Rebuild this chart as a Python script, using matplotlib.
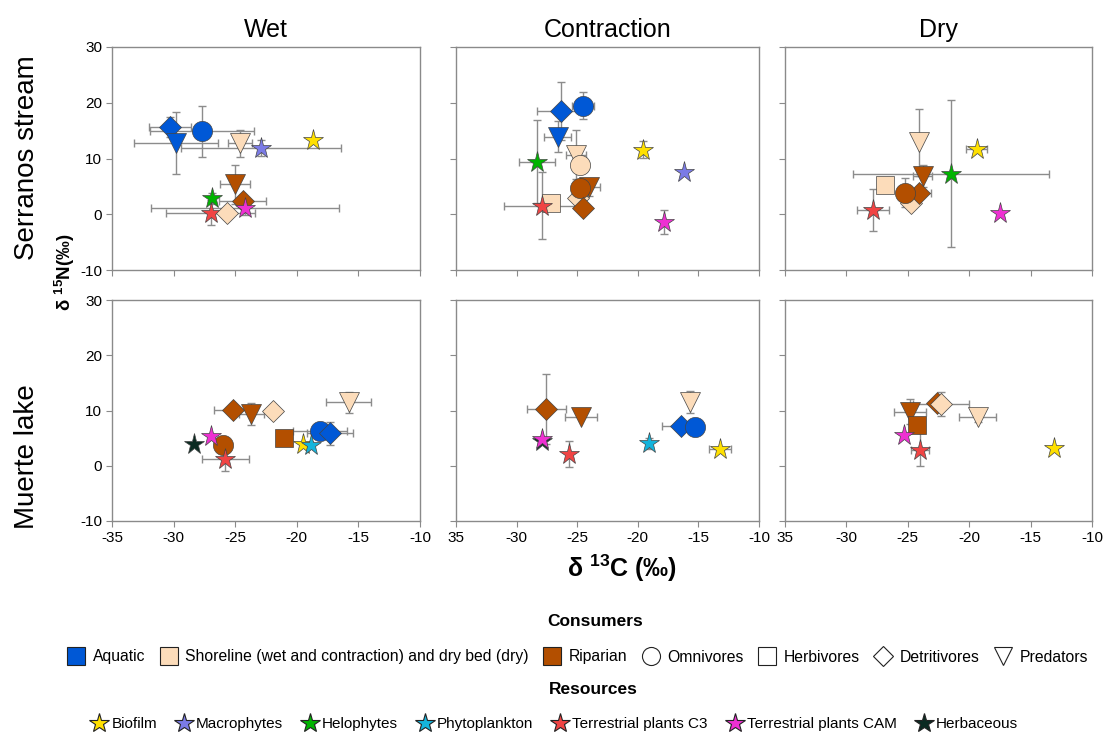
import matplotlib
matplotlib.use("Agg")
import matplotlib.pyplot as plt
from matplotlib.lines import Line2D

plt.rcParams['font.family'] = ['Liberation Sans', 'DejaVu Sans']
plt.rcParams['axes.unicode_minus'] = False
plt.rcParams['mathtext.fontset'] = 'custom'
plt.rcParams['mathtext.rm'] = 'Liberation Sans'
plt.rcParams['mathtext.bf'] = 'Liberation Sans:bold'

# --- data ---
seasons = ["Wet", "Contraction", "Dry"]
sites = ["Serranos stream", "Muerte lake"]
x_ticks = [-35, -30, -25, -20, -15, -10]
y_ticks = [-10, 0, 10, 20, 30]
x_labels_left = ["-35", "-30", "-25", "-20", "-15", "-10"]
x_labels_other = ["35", "-30", "-25", "-20", "-15", "-10"]
y_labels = ["-10", "0", "10", "20", "30"]

# Serranos stream, wet
ws_kind = ["Aquatic Detritivores", "Aquatic Predators", "Aquatic Omnivores", "Shoreline Predators",
           "Macrophytes", "Biofilm", "Riparian Predators", "Riparian Detritivores", "Helophytes",
           "Terrestrial plants C3", "Shoreline Detritivores", "Terrestrial plants CAM"]
ws_x = [-30.3, -29.8, -27.7, -24.6, -22.9, -18.7, -25.0, -24.4, -26.9, -27.0, -25.7, -24.2]
ws_y = [15.6, 12.8, 14.9, 12.7, 11.9, 13.4, 5.4, 2.3, 2.9, 0.3, 0.3, 1.1]
ws_xerr = [1.7, 3.4, 4.2, 1.0, 6.5, 0, 1.2, 1.9, 0, 3.6, 0, 7.6]
ws_yerr = [1.8, 5.6, 4.6, 2.5, 1.5, 0, 3.5, 0, 1.0, 2.2, 0, 1.2]

# Serranos stream, contraction
cs_kind = ["Aquatic Detritivores", "Aquatic Omnivores", "Aquatic Predators", "Helophytes",
           "Shoreline Herbivores", "Terrestrial plants C3", "Shoreline Predators", "Shoreline Omnivores",
           "Shoreline Detritivores", "Riparian Predators", "Riparian Omnivores", "Riparian Detritivores",
           "Biofilm", "Macrophytes", "Terrestrial plants CAM"]
cs_x = [-26.3, -24.55, -26.6, -28.3, -27.2, -27.9, -25.1, -24.8, -24.9, -24.0, -24.8, -24.5, -19.6, -16.2, -17.8]
cs_y = [18.5, 19.5, 13.9, 9.45, 2.1, 1.5, 10.7, 8.9, 3.0, 4.8, 4.7, 1.05, 11.6, 7.5, -1.4]
cs_xerr = [2.0, 0.9, 1.1, 1.5, 0, 3.1, 0.8, 0, 0, 0.9, 0, 0, 0, 0, 0]
cs_yerr = [5.2, 2.4, 2.8, 7.5, 0, 6.0, 4.4, 0, 0, 1.6, 0, 0, 1.5, 0, 2.1]

# Serranos stream, dry
ds_kind = ["Shoreline Predators", "Biofilm", "Helophytes", "Shoreline Herbivores", "Shoreline Detritivores",
           "Riparian Detritivores", "Riparian Omnivores", "Riparian Predators", "Terrestrial plants C3",
           "Terrestrial plants CAM"]
ds_x = [-24.1, -19.4, -21.5, -26.85, -24.7, -24.1, -25.2, -23.8, -27.8, -17.5]
ds_y = [12.9, 11.7, 7.3, 5.3, 2.0, 3.9, 3.9, 6.85, 0.8, 0.2]
ds_xerr = [0, 0.85, 8.0, 0, 0, 1.0, 0, 0.8, 1.3, 0]
ds_yerr = [6.0, 0, 13.2, 0, 0, 0, 2.6, 2.0, 3.8, 0]

# Muerte lake, wet
wm_kind = ["Riparian Detritivores", "Riparian Predators", "Shoreline Detritivores", "Shoreline Predators",
           "Riparian Herbivores", "Aquatic Omnivores", "Aquatic Detritivores", "Biofilm", "Phytoplankton",
           "Herbaceous", "Riparian Omnivores", "Terrestrial plants CAM", "Terrestrial plants C3"]
wm_x = [-25.2, -23.7, -21.9, -15.8, -21.0, -18.1, -17.3, -19.5, -18.85, -28.35, -26.0, -27.0, -25.8]
wm_y = [10.05, 9.3, 9.9, 11.45, 5.1, 6.3, 5.9, 4.0, 3.8, 4.0, 3.8, 5.4, 1.3]
wm_xerr = [1.5, 1.0, 0, 1.8, 0, 2.2, 1.9, 0, 0, 0, 0, 0, 1.9]
wm_yerr = [0, 2.0, 0, 1.9, 0, 0, 2.1, 0, 0, 0, 0, 0, 2.3]

# Muerte lake, contraction
cm_kind = ["Riparian Detritivores", "Riparian Predators", "Herbaceous", "Terrestrial plants CAM",
           "Terrestrial plants C3", "Phytoplankton", "Aquatic Detritivores", "Aquatic Omnivores",
           "Shoreline Predators", "Biofilm"]
cm_x = [-27.55, -24.7, -27.9, -27.9, -25.7, -19.1, -16.4, -15.25, -15.7, -13.25]
cm_y = [10.3, 8.8, 4.4, 4.9, 2.15, 4.1, 7.15, 7.1, 11.5, 2.95]
cm_xerr = [1.6, 1.3, 0, 0, 0, 0, 1.6, 0, 0, 0.9]
cm_yerr = [6.3, 0, 0, 0, 2.3, 1.0, 0, 0, 2.0, 0]

# Muerte lake, dry
dm_kind = ["Riparian Predators", "Riparian Detritivores", "Shoreline Detritivores", "Shoreline Predators",
           "Riparian Herbivores", "Terrestrial plants CAM", "Terrestrial plants C3", "Biofilm"]
dm_x = [-24.8, -22.65, -22.3, -19.3, -24.25, -25.3, -24.0, -13.1]
dm_y = [9.8, 11.4, 11.2, 8.9, 7.3, 5.6, 2.9, 3.3]
dm_xerr = [1.3, 0, 2.3, 1.5, 0, 0, 0.7, 0]
dm_yerr = [2.3, 0, 2.2, 1.0, 0, 0, 3.0, 0]

consumer_groups = ["Aquatic", "Shoreline", "Riparian"]
consumer_labels = ["Aquatic", "Shoreline (wet and contraction) and dry bed (dry)", "Riparian"]
feeding_groups = ["Omnivores", "Herbivores", "Detritivores", "Predators"]
resources = ["Biofilm", "Macrophytes", "Helophytes", "Phytoplankton",
             "Terrestrial plants C3", "Terrestrial plants CAM", "Herbaceous"]

# --- styles ---
group_colors = {"Aquatic": "#0058D6", "Shoreline": "#FCDCBA", "Riparian": "#B34F00"}
shape_markers = {"Omnivores": "o", "Herbivores": "s", "Detritivores": "D", "Predators": "v"}
marker_sizes = {"o": 14.5, "s": 12.5, "D": 11, "v": 14.5, "*": 15.5}
resource_colors = {"Biofilm": "#FFE000", "Macrophytes": "#7B7BE6", "Helophytes": "#00B400",
                   "Phytoplankton": "#14B4DC", "Terrestrial plants C3": "#F04444",
                   "Terrestrial plants CAM": "#EE30D2", "Herbaceous": "#0B2B22"}
spine_col = "#8a8a8a"

panels = [
    [(ws_kind, ws_x, ws_y, ws_xerr, ws_yerr), (cs_kind, cs_x, cs_y, cs_xerr, cs_yerr),
     (ds_kind, ds_x, ds_y, ds_xerr, ds_yerr)],
    [(wm_kind, wm_x, wm_y, wm_xerr, wm_yerr), (cm_kind, cm_x, cm_y, cm_xerr, cm_yerr),
     (dm_kind, dm_x, dm_y, dm_xerr, dm_yerr)],
]

W, H = 1107, 734
col_px = [(112, 420), (456, 759), (785, 1092)]
row_px = [(47, 270), (300, 521)]


def draw_point(ax, kind, x, y, xe, ye):
    if kind in resource_colors:
        color, marker = resource_colors[kind], "*"
    else:
        group, shape = kind.split()
        color, marker = group_colors[group], shape_markers[shape]
    if xe or ye:
        ax.errorbar(x, y, xerr=xe if xe else None, yerr=ye if ye else None, fmt="none",
                    ecolor="#8c8c8c", elinewidth=1, capsize=3, capthick=1, zorder=2)
    ax.plot(x, y, marker=marker, ms=marker_sizes[marker], mfc=color, mec="#444444",
            mew=0.5, ls="none", zorder=3)


fig = plt.figure(figsize=(W / 100, H / 100), dpi=100)

for r in range(2):
    for c in range(3):
        x0, x1 = col_px[c]
        y0, y1 = row_px[r]
        ax = fig.add_axes([x0 / W, 1 - y1 / H, (x1 - x0) / W, (y1 - y0) / H])
        kinds, xs, ys, xes, yes = panels[r][c]
        for k, xv, yv, xe, ye in zip(kinds, xs, ys, xes, yes):
            draw_point(ax, k, xv, yv, xe, ye)
        ax.set_xlim(-35, -10)
        ax.set_ylim(-10, 30)
        ax.set_xticks(x_ticks)
        ax.set_yticks(y_ticks)
        for s in ax.spines.values():
            s.set_color(spine_col)
            s.set_linewidth(1)
        ax.tick_params(direction="out", length=4, color=spine_col, labelsize=11, pad=3)
        if r == 1:
            ax.set_xticklabels(x_labels_left if c == 0 else x_labels_other)
        else:
            ax.set_xticklabels([])
            ax.set_title(seasons[c], fontsize=18, pad=7)
        if c == 0:
            ax.set_yticklabels(y_labels)
        else:
            ax.set_yticklabels([])

fig.text(27 / W, 1 - 158 / H, sites[0], rotation=90, fontsize=20, ha="center", va="center")
fig.text(27 / W, 1 - 457 / H, sites[1], rotation=90, fontsize=20, ha="center", va="center")
fig.text(65 / W, 1 - 272 / H, r"δ $^{\mathbf{15}}$N(‰)", rotation=90, fontsize=13.5, fontweight="bold",
         ha="center", va="center")
fig.text(622 / W, 1 - 568 / H, r"δ $^{\mathbf{13}}$C (‰)", fontsize=18, fontweight="bold",
         ha="center", va="center")

# legends
fig.text(595 / W, 1 - 621 / H, "Consumers", fontsize=12.5, fontweight="bold", ha="center", va="center")
fig.text(593 / W, 1 - 690 / H, "Resources", fontsize=12.5, fontweight="bold", ha="center", va="center")

cons_handles = [Line2D([], [], marker="s", ms=13, mfc=group_colors[g], mec="#222222", mew=0.8,
                       ls="none", label=lab) for g, lab in zip(consumer_groups, consumer_labels)]
for f in feeding_groups:
    m = shape_markers[f]
    cons_handles.append(Line2D([], [], marker=m, ms=10 if m == "D" else 13, mfc="white",
                               mec="#222222", mew=0.8, ls="none", label=f))
fig.legend(handles=cons_handles, ncol=len(cons_handles), loc="center",
           bbox_to_anchor=(578 / W, 1 - 657 / H), frameon=False, fontsize=11.3,
           handletextpad=0.5, columnspacing=0.95, handlelength=1.1, borderpad=0)

res_handles = [Line2D([], [], marker="*", ms=15, mfc=resource_colors[k], mec="#222222", mew=0.8,
                      ls="none", label=k) for k in resources]
fig.legend(handles=res_handles, ncol=len(res_handles), loc="center",
           bbox_to_anchor=(554 / W, 1 - 724 / H), frameon=False, fontsize=11,
           handletextpad=0.2, columnspacing=1.15, handlelength=1.2, borderpad=0)

fig.savefig("out.png", dpi=100)
